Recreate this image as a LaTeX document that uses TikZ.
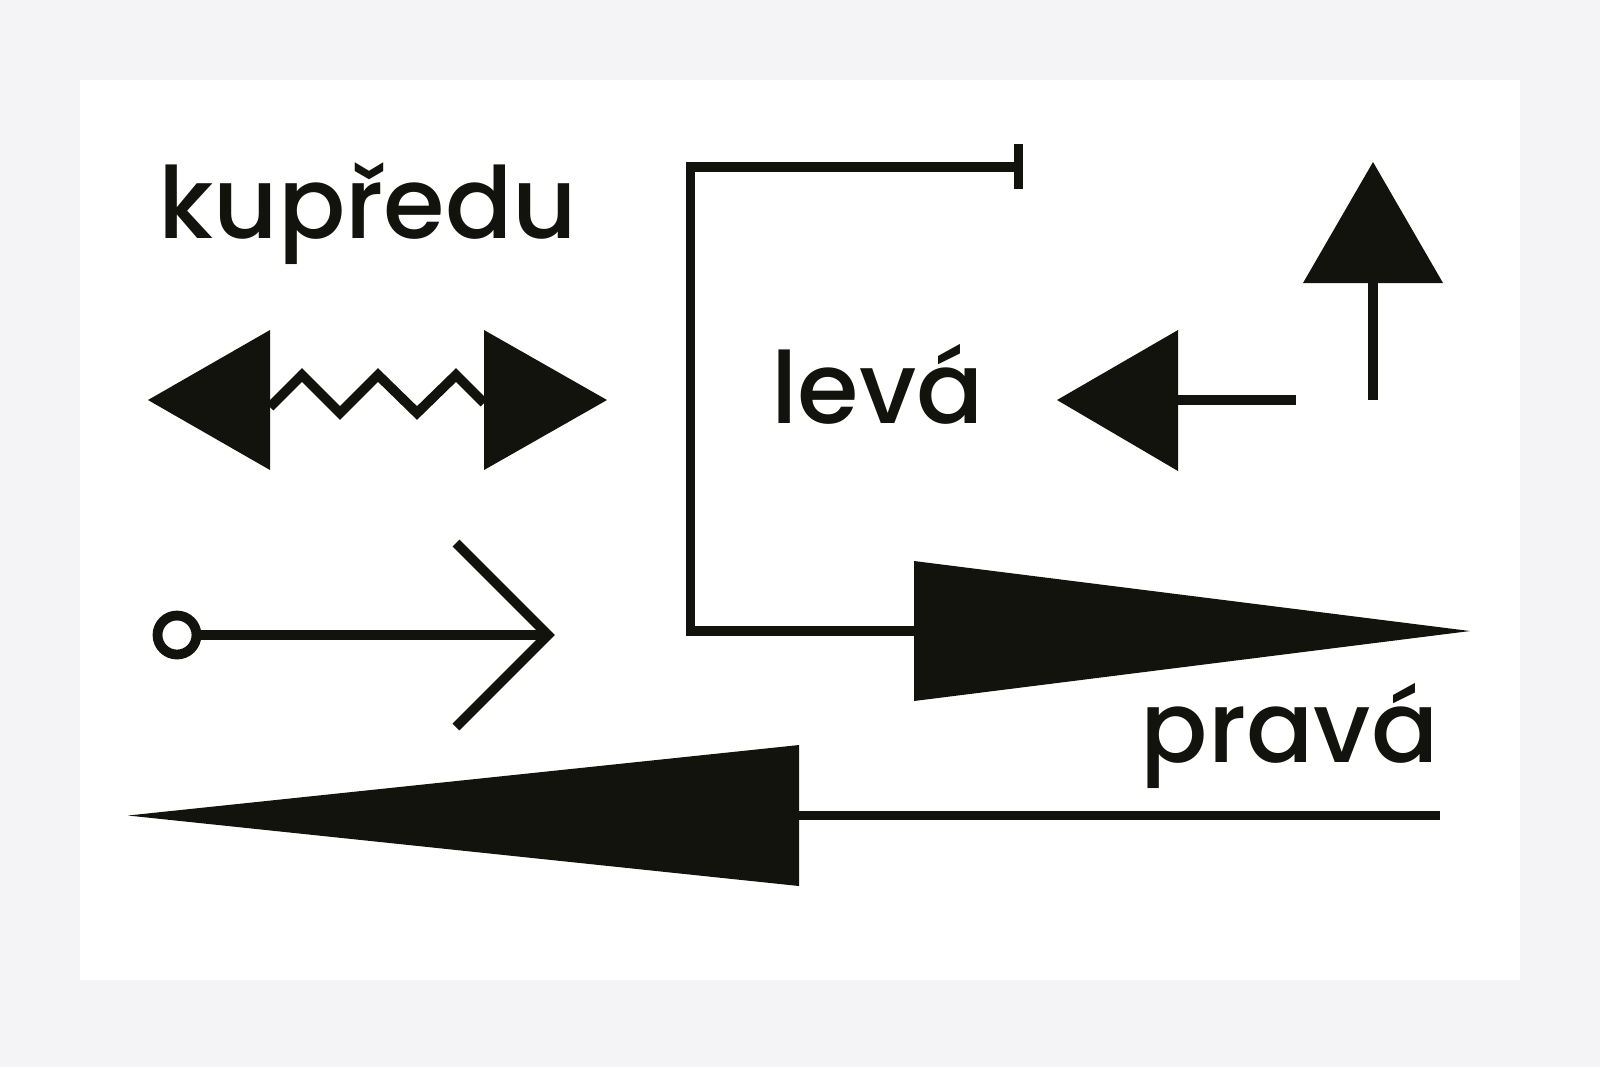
\documentclass[tikz,border=0pt]{standalone}
\usepackage{fontspec}
\setmainfont{Poppins}[UprightFont={* Medium}]
\usetikzlibrary{positioning}
\definecolor{ink}{RGB}{19,19,13}
\definecolor{paper}{RGB}{244,244,246}

\begin{document}
\begin{tikzpicture}[x=1cm, y=-1cm,
    shaft/.style={draw=ink, line width=0.98mm, line join=miter},
    headfill/.style={fill=ink},
    word/.style={anchor=base west, inner sep=0pt, text=ink, font=\fontsize{28.3pt}{30pt}\selectfont}]
      \fill[paper] (0, 0) rectangle (16, 10.67);
      \fill[white] (0.8, 0.8) rectangle (15.2, 9.8);

      \node[word] (kupredu) at (1.58, 2.38){kupředu};
      \node[word] (leva) at (7.71, 4.23){levá};
      \node[word] (prava) at (11.40, 7.62){pravá};

      \coordinate (1) at (1.48, 4);
      \coordinate (2) at (6.07, 4);
      \coordinate (3) at (1.77, 6.35);
      \coordinate (4) at (5.48, 6.35);
      \coordinate (5) at (10.185, 1.67);
      \coordinate (6) at (14.70, 6.31);
      \coordinate (7) at (10.57, 4);
      \coordinate (8) at (13.73, 1.62);
      \coordinate (9) at (1.28, 8.155);

      \fill[headfill] (1) -- (2.70, 3.30) -- (2.70, 4.70) -- cycle;
      \fill[headfill] (2) -- (4.84, 3.30) -- (4.84, 4.70) -- cycle;
      \draw[shaft] (2.70, 4.07) -- (3.02, 3.75) -- (3.40, 4.13) -- (3.78, 3.75)
        -- (4.17, 4.13) -- (4.56, 3.75) -- (4.84, 4.03);

      \draw[shaft] (3) circle (1.95mm);
      \draw[shaft] ([xshift=1.95mm]3) -- (4);
      \draw[shaft] (4.56, 5.43) -- (4) -- (4.56, 7.27);

      \draw[shaft] (5) -| (6.905, 6.31) -- (9.14, 6.31);
      \draw[shaft] (10.185, 1.44) -- (10.185, 1.89);
      \fill[headfill] (6) -- (9.14, 5.61) -- (9.14, 7.01) -- cycle;

      \fill[headfill] (7) -- (11.78, 3.30) -- (11.78, 4.71) -- cycle;
      \draw[shaft] (11.78, 4) -- (12.96, 4);

      \fill[headfill] (8) -- (14.43, 2.83) -- (13.03, 2.83) -- cycle;
      \draw[shaft] (13.73, 2.83) -- (13.73, 4);

      \fill[headfill] (9) -- (7.99, 7.45) -- (7.99, 8.86) -- cycle;
      \draw[shaft] (7.99, 8.155) -- (14.40, 8.155);
\end{tikzpicture}
\end{document}
